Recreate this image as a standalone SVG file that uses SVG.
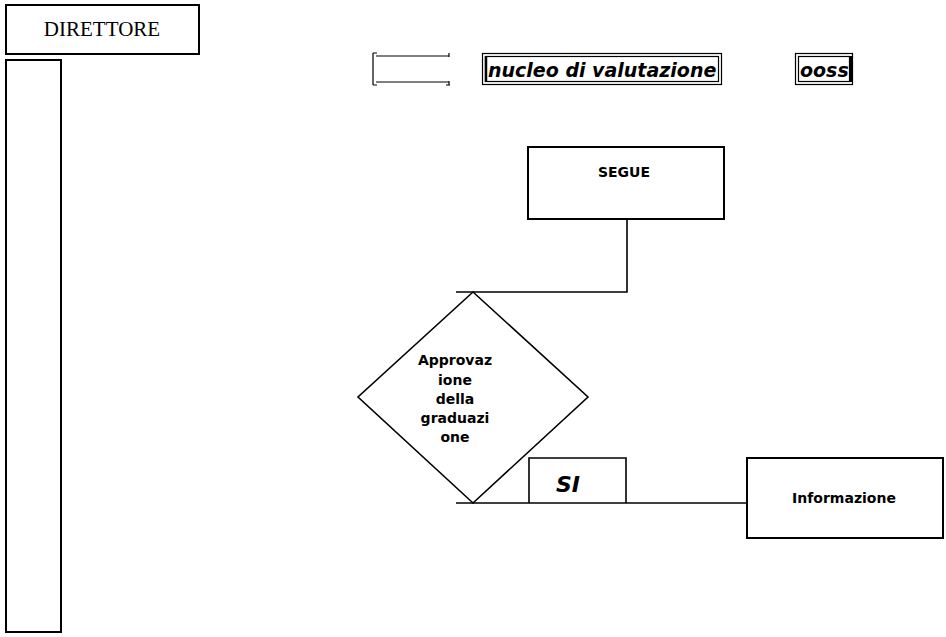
<svg xmlns="http://www.w3.org/2000/svg" width="946" height="637" viewBox="0 0 946 637">
<style>
.box{fill:#fff;stroke:#000;stroke-width:2}
.thin{fill:none;stroke:#000;stroke-width:1.2}
.ln{fill:none;stroke:#000;stroke-width:1.6}
.b{font-family:"DejaVu Sans",Verdana,sans-serif;font-weight:bold;font-size:14px;fill:#000;text-anchor:middle}
.bi{font-family:"DejaVu Sans",Verdana,sans-serif;font-weight:bold;font-style:italic;font-size:19px;fill:#000}
.serif{font-family:"Liberation Serif","Times New Roman",serif;font-size:21px;fill:#000;text-anchor:middle}
</style>
<rect width="946" height="637" fill="#fff"/>
<g id="direttore">
<rect class="box" x="6" y="5" width="193" height="49"/>
<text class="serif" x="102" y="36">DIRETTORE</text>
</g>
<g id="lane">
<rect class="box" x="6" y="60" width="55" height="572"/>
</g>
<g id="empty-box">
<path class="thin" d="M373,53 V85 M373,53 H377 M373,85 H377 M376,56 H449 M376,82 H449 M449,53 V57 M449,81 V85 M446,85 H450"/>
</g>
<g id="nucleo">
<rect class="thin" x="482.5" y="53.5" width="239" height="31"/>
<rect class="thin" x="485.5" y="56.5" width="233" height="25"/>
<line x1="486" y1="56" x2="486" y2="82" stroke="#000" stroke-width="2.5"/>
<text class="bi" x="488" y="77">nucleo di valutazione</text>
</g>
<g id="ooss">
<rect class="thin" x="795.5" y="53.5" width="57" height="31"/>
<rect class="thin" x="798.5" y="56.5" width="51" height="25"/>
<text class="bi" x="800" y="77">ooss</text>
<rect x="849" y="56" width="4" height="26" fill="#000"/>
</g>
<g id="segue">
<rect class="box" x="528" y="147" width="196" height="72"/>
<text class="b" x="624" y="177">SEGUE</text>
</g>
<g id="connectors">
<path class="ln" d="M627,219 V292 H456"/>
<path class="ln" d="M456,503 H747"/>
</g>
<g id="approvazione">
<polygon class="ln" points="473,292 588,397 473,503 358,397" fill="#fff"/>
<text class="b" x="455" y="365">Approvaz</text>
<text class="b" x="455" y="385">ione</text>
<text class="b" x="455" y="404">della</text>
<text class="b" x="455" y="423">graduazi</text>
<text class="b" x="455" y="442">one</text>
</g>
<g id="si">
<path class="ln" d="M529,503 V458 H626 V503"/>
<text class="bi" x="556" y="492" style="font-size:22px">SI</text>
</g>
<g id="informazione">
<rect class="box" x="747" y="458" width="196" height="80"/>
<text class="b" x="844" y="503">Informazione</text>
</g>
</svg>
